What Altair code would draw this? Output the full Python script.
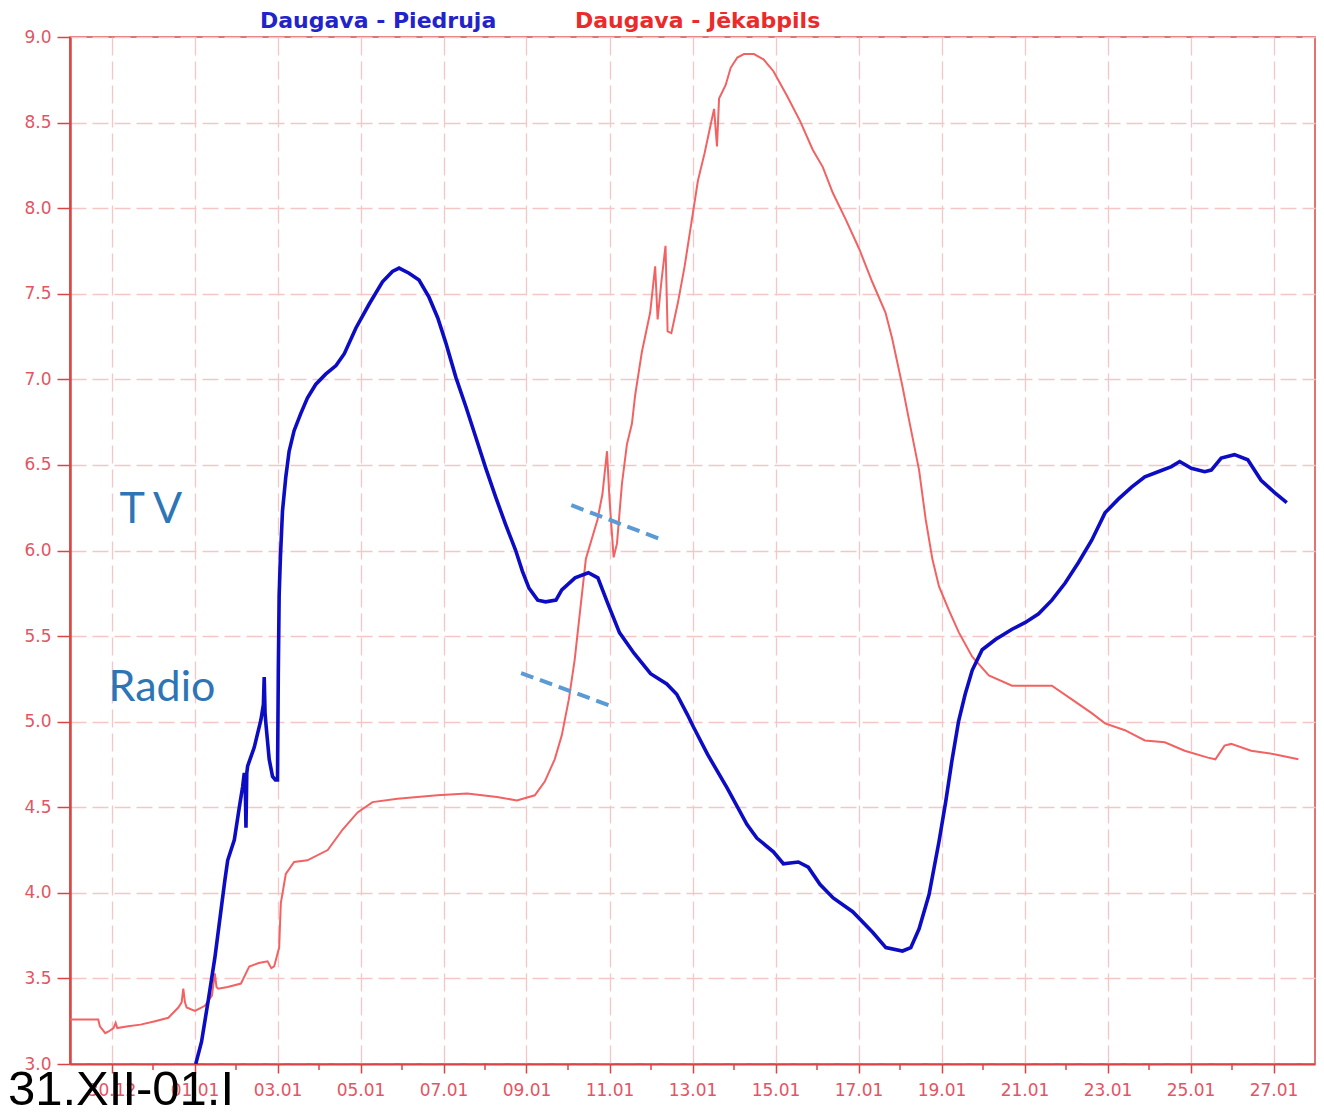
import altair as alt
import pandas as pd

START = pd.Timestamp("2010-12-29")

# Daugava - Piedruja (days since 29.12 00:00, water level m)
piedruja_day = [3.03, 3.17, 3.33, 3.49, 3.65, 3.73, 3.80, 3.96, 4.08, 4.16, 4.20, 4.22, 4.24, 4.26,
                4.28, 4.44, 4.60, 4.66, 4.68, 4.70, 4.72, 4.80, 4.88, 4.95, 5.00, 5.02, 5.04, 5.07,
                5.12, 5.20, 5.28, 5.40, 5.56, 5.72, 5.92, 6.16, 6.41, 6.61, 6.89, 7.21, 7.53, 7.77,
                7.93, 8.17, 8.41, 8.65, 8.86, 9.06, 9.30, 9.54, 9.78, 10.02, 10.26, 10.50, 10.74,
                10.90, 11.06, 11.27, 11.46, 11.71, 11.85, 12.17, 12.49, 12.72, 12.96, 13.24, 13.59,
                13.99, 14.38, 14.62, 14.88, 15.02, 15.36, 15.84, 16.31, 16.55, 16.95, 17.19, 17.55,
                17.79, 18.07, 18.39, 18.86, 19.34, 19.66, 20.06, 20.26, 20.46, 20.70, 20.94, 21.10,
                21.25, 21.41, 21.57, 21.74, 21.98, 22.30, 22.70, 23.02, 23.34, 23.66, 23.98, 24.30,
                24.62, 24.94, 25.26, 25.58, 25.90, 26.22, 26.54, 26.74, 27.02, 27.34, 27.50, 27.74,
                28.06, 28.38, 28.70, 29.02, 29.32]
piedruja_h = [3.00, 3.13, 3.37, 3.62, 3.92, 4.07, 4.19, 4.31, 4.50, 4.62, 4.70, 4.68, 4.38, 4.70,
              4.74, 4.85, 5.01, 5.10, 5.26, 5.05, 4.99, 4.78, 4.68, 4.66, 4.66, 5.30, 5.74, 5.96,
              6.23, 6.43, 6.58, 6.70, 6.80, 6.89, 6.97, 7.03, 7.08, 7.15, 7.30, 7.44, 7.57, 7.63,
              7.65, 7.62, 7.58, 7.48, 7.36, 7.21, 7.01, 6.84, 6.66, 6.48, 6.31, 6.15, 6.00,
              5.88, 5.78, 5.71, 5.70, 5.71, 5.77, 5.84, 5.87, 5.84, 5.69, 5.52, 5.40,
              5.28, 5.22, 5.16, 5.04, 4.97, 4.81, 4.61, 4.40, 4.32, 4.24, 4.17, 4.18,
              4.15, 4.05, 3.97, 3.89, 3.77, 3.68, 3.66, 3.68, 3.79, 3.99, 4.30, 4.53,
              4.77, 5.00, 5.16, 5.30, 5.42, 5.48, 5.54, 5.58, 5.63, 5.71, 5.81, 5.93,
              6.06, 6.22, 6.30, 6.37, 6.43, 6.46, 6.49, 6.52, 6.48, 6.46, 6.47, 6.54,
              6.56, 6.53, 6.41, 6.34, 6.28]

# Daugava - Jēkabpils
jekabpils_day = [0.00, 0.68, 0.72, 0.85, 0.93, 1.05, 1.10, 1.14, 1.40, 1.70, 2.05, 2.37, 2.61, 2.69,
                 2.73, 2.77, 2.81, 3.01, 3.25, 3.42, 3.49, 3.53, 3.57, 3.80, 4.12, 4.32, 4.55, 4.76,
                 4.85, 4.92, 5.04, 5.08, 5.20, 5.40, 5.72, 6.21, 6.57, 6.93, 7.29, 7.89, 8.85, 9.57,
                 10.29, 10.77, 11.20, 11.44, 11.68, 11.85, 12.02, 12.16, 12.43, 12.71, 12.83, 12.94,
                 13.00, 13.10, 13.18, 13.30, 13.42, 13.54, 13.62, 13.78, 13.98, 14.10, 14.16, 14.25,
                 14.35, 14.40, 14.49, 14.65, 14.81, 14.97, 15.13, 15.29, 15.44, 15.52, 15.59, 15.64,
                 15.80, 15.92, 16.08, 16.24, 16.48, 16.71, 16.95, 17.27, 17.59, 17.90, 18.14, 18.38,
                 18.70, 19.02, 19.33, 19.65, 19.81, 20.05, 20.22, 20.46, 20.62, 20.78, 20.94, 21.18,
                 21.42, 21.74, 22.14, 22.70, 23.66, 24.14, 24.62, 24.94, 25.42, 25.90, 26.38, 26.86,
                 27.42, 27.60, 27.82, 27.98, 28.46, 29.02, 29.60]
jekabpils_h = [3.26, 3.26, 3.22, 3.18, 3.19, 3.21, 3.24, 3.21, 3.22, 3.23, 3.25, 3.27, 3.33, 3.36,
               3.44, 3.36, 3.33, 3.31, 3.34, 3.40, 3.53, 3.45, 3.44, 3.45, 3.47, 3.57, 3.59, 3.60,
               3.56, 3.57, 3.68, 3.94, 4.11, 4.18, 4.19, 4.25, 4.37, 4.47, 4.53, 4.55, 4.57, 4.58,
               4.56, 4.54, 4.57, 4.65, 4.78, 4.92, 5.13, 5.36, 5.95, 6.18, 6.33, 6.58,
               6.30, 5.96, 6.04, 6.39, 6.62, 6.74, 6.91, 7.16, 7.39, 7.66, 7.35, 7.57,
               7.78, 7.28, 7.27, 7.45, 7.66, 7.91, 8.16, 8.32, 8.49, 8.58, 8.36, 8.64,
               8.72, 8.82, 8.88, 8.90, 8.90, 8.87, 8.80, 8.66, 8.51, 8.34, 8.24, 8.09,
               7.93, 7.76, 7.57, 7.39, 7.24, 6.97, 6.76, 6.47, 6.18, 5.95, 5.79, 5.65,
               5.52, 5.38, 5.27, 5.21, 5.21, 5.13, 5.05, 4.99, 4.95, 4.89, 4.88, 4.83,
               4.79, 4.78, 4.86, 4.87, 4.83, 4.81, 4.78]

series_names = ["Daugava - Piedruja", "Daugava - Jēkabpils"]
major_tick_days = [1, 3, 5, 7, 9, 11, 13, 15, 17, 19, 21, 23, 25, 27, 29]   # 30.12 ... 27.01
minor_tick_days = [2, 4, 6, 8, 10, 12, 14, 16, 18, 20, 22, 24, 26, 28]
y_ticks = [3.0, 3.5, 4.0, 4.5, 5.0, 5.5, 6.0, 6.5, 7.0, 7.5, 8.0, 8.5, 9.0]

# annotations (label, day, level)
note_labels = ["T V", "Radio"]
note_day = [1.19, 0.93]
note_h = [6.16, 5.12]
# dashed marker lines: (day1, h1) -> (day2, h2)
marker_day1 = [12.08, 10.87]
marker_h1 = [6.265, 5.284]
marker_day2 = [14.29, 13.10]
marker_h2 = [6.06, 5.086]
corner_label = "31.XII-01.I"


def to_dt(days):
    return [START + pd.Timedelta(days=d) for d in days]


df_p = pd.DataFrame({"t": to_dt(piedruja_day), "h": piedruja_h})
df_j = pd.DataFrame({"t": to_dt(jekabpils_day), "h": jekabpils_h})
df_minor = pd.DataFrame({"t": to_dt(minor_tick_days)})
df_notes = pd.DataFrame({"t": to_dt(note_day), "h": note_h, "label": note_labels})
df_marks = pd.DataFrame({"t": to_dt(marker_day1), "h": marker_h1,
                         "t2": to_dt(marker_day2), "h2": marker_h2})

W, H = 1245, 1027
AXIS_RED = "#d94545"
LABEL_RED = "#e25563"
GRID = "#f4c6c6"
FONT = "DejaVu Sans"

x_scale = alt.Scale(domain=[alt.DateTime(year=2010, month=12, date=29),
                            alt.DateTime(year=2011, month=1, date=28)], nice=False)
y_scale = alt.Scale(domain=[3, 9], nice=False, zero=False)

major_vals = [alt.DateTime(year=d.year, month=d.month, date=d.day) for d in to_dt(major_tick_days)]

x_axis = alt.Axis(values=major_vals, format="%d.%m", title=None,
                  labelColor=LABEL_RED, labelFont=FONT, labelFontSize=17, labelPadding=9,
                  tickColor=AXIS_RED, tickSize=9, tickWidth=1.5,
                  domainColor=AXIS_RED, domainWidth=2,
                  grid=True, gridColor=GRID, gridDash=[18, 6], gridWidth=1.3,
                  labelFlush=False, labelOverlap=False)
y_axis = alt.Axis(values=y_ticks, format=".1f", title=None,
                  labelColor=LABEL_RED, labelFont=FONT, labelFontSize=17, labelPadding=6,
                  tickColor=AXIS_RED, tickSize=13, tickWidth=1.5,
                  domainColor=AXIS_RED, domainWidth=2.5,
                  grid=True, gridColor=GRID, gridDash=[16, 6], gridWidth=1.3,
                  labelFlush=False, labelOverlap=False)

X = alt.X("t:T", scale=x_scale, axis=x_axis)
Y = alt.Y("h:Q", scale=y_scale, axis=y_axis)

red_line = alt.Chart(df_j).mark_line(color="#f36262", strokeWidth=2, clip=True).encode(x=X, y=Y)
blue_line = alt.Chart(df_p).mark_line(color="#0c0cc4", strokeWidth=3.6, clip=True).encode(x=X, y=Y)
minor_ticks = alt.Chart(df_minor).mark_rule(color=AXIS_RED, strokeWidth=1.5).encode(
    x=X, y=alt.value(H + 1), y2=alt.value(H + 6),
)
markers = alt.Chart(df_marks).mark_rule(color="#5b9bd5", strokeWidth=4, strokeDash=[13, 7]).encode(
    x=X, y=Y, x2="t2:T", y2="h2:Q",
)
notes = alt.Chart(df_notes).mark_text(
    align="left", baseline="alphabetic", font="Lato", fontSize=43, color="#2e75b6"
).encode(x=X, y=Y, text="label:N")

title_df = pd.DataFrame({"label": series_names})
title_p = alt.Chart(title_df).transform_filter(alt.datum.label == series_names[0]).mark_text(
    align="left", baseline="alphabetic", font=FONT, fontWeight="bold", fontSize=22, color="#2323cc"
).encode(x=alt.value(190), y=alt.value(-9), text="label:N")
title_j = alt.Chart(title_df).transform_filter(alt.datum.label == series_names[1]).mark_text(
    align="left", baseline="alphabetic", font=FONT, fontWeight="bold", fontSize=22, color="#ec2a2a"
).encode(x=alt.value(505), y=alt.value(-9), text="label:N")

corner_df = pd.DataFrame({"label": [corner_label]})
corner = alt.Chart(corner_df).mark_text(
    align="left", baseline="alphabetic", font="Liberation Sans",
    fontSize=49, color="#000000"
).encode(x=alt.value(-62), y=alt.value(H + 41), text="label:N")

chart = alt.layer(red_line, blue_line, minor_ticks, markers, notes, title_p, title_j, corner).properties(
    width=W, height=H,
    padding={"left": 62, "top": 29, "right": 1, "bottom": 43},
    autosize=alt.AutoSizeParams(type="none"),
).configure_view(stroke=AXIS_RED, strokeWidth=1.5)

chart.save("out.html", embed_options={"renderer": "svg", "actions": False})
